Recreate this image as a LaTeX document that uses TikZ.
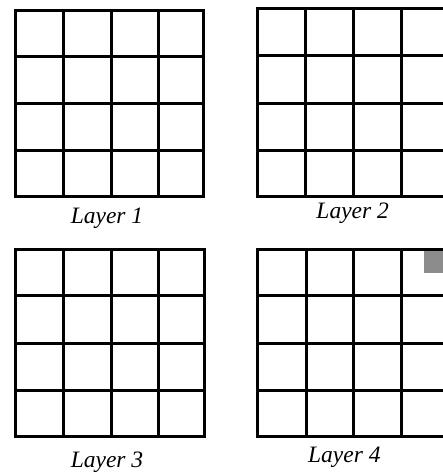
\documentclass[tikz,border=0pt]{standalone}
\usepackage{fontspec}
\setmainfont{Liberation Serif}
\definecolor{cellgray}{RGB}{140,140,140}
\begin{document}
\begin{tikzpicture}[x=1pt,y=-1pt,
  gridline/.style={line width=3pt,black},
  lbl/.style={font=\fontsize{23.5}{25}\selectfont\itshape,inner sep=0pt,anchor=base}]
\useasboundingbox (0,0) rectangle (443,475);
\fill[white] (0,0) rectangle (443,475);
% Layer 4 gray cell
\fill[cellgray] (423.5,250) rectangle (450,272.5);
% Layer 1
\draw[gridline] (15,10) rectangle (203,196.7);
\foreach \x in {63,111,158} \draw[gridline] (\x,10) -- (\x,196.7);
\foreach \y in {56.7,103.3,150} \draw[gridline] (15,\y) -- (203,\y);
% Layer 2
\draw[gridline] (257.7,8.3) rectangle (449,196.7);
\foreach \x in {305,353.3,401} \draw[gridline] (\x,8.3) -- (\x,196.7);
\foreach \y in {55,103.3,150} \draw[gridline] (257.7,\y) -- (449,\y);
% Layer 3
\draw[gridline] (15,249) rectangle (204,436.7);
\foreach \x in {63.3,111,158.3} \draw[gridline] (\x,249) -- (\x,436.7);
\foreach \y in {295.7,343.3,390} \draw[gridline] (15,\y) -- (204,\y);
% Layer 4
\draw[gridline] (257.7,249) rectangle (449,436.7);
\foreach \x in {306,353.3,401} \draw[gridline] (\x,249) -- (\x,436.7);
\foreach \y in {295.7,343.3,390} \draw[gridline] (257.7,\y) -- (449,\y);
% labels
\node[lbl] (l1) at (107,223.5) {Layer 1};
\node[lbl] (l2) at (352.7,218.5) {Layer 2};
\node[lbl] (l3) at (107,467) {Layer 3};
\node[lbl] (l4) at (344.3,462) {Layer 4};
\end{tikzpicture}
\end{document}
